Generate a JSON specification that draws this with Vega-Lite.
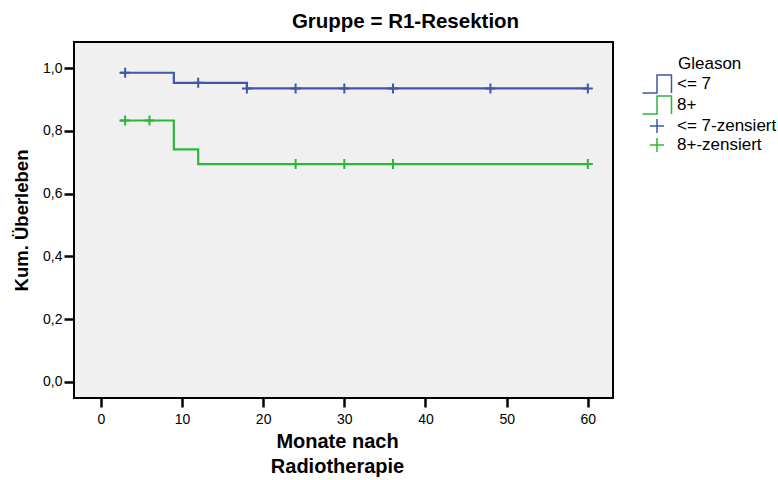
{
  "$schema": "https://vega.github.io/schema/vega-lite/v6.json",
  "width": 539,
  "height": 356,
  "autosize": {"type": "none"},
  "padding": {"left": 74, "top": 42, "right": 165, "bottom": 82},
  "background": "white",
  "title": {"text": "Gruppe = R1-Resektion", "font": "Liberation Sans", "fontSize": 20.5, "fontWeight": "bold", "color": "black", "offset": 10, "dx": 62},
  "config": {
    "font": "Liberation Sans",
    "view": {"fill": "#f0f0f0", "stroke": "black", "strokeWidth": 2},
    "legend": {
      "orient": "none", "legendX": 604, "legendY": 13.5, "padding": 0,
      "titleFontSize": 17, "titleFontWeight": "normal", "titleColor": "black", "titlePadding": 3, "titleFont": "Liberation Sans",
      "labelFontSize": 17, "labelColor": "black", "labelFont": "Liberation Sans", "labelOffset": 11.5,
      "symbolOffset": -29.5,
      "symbolSize": 196, "symbolStrokeWidth": 1.5, "rowPadding": -8, "symbolOpacity": 1
    }
  },
  "datasets": {
    "curves": [
      {"t": 2.3, "s": 0.985, "g": "<= 7"},
      {"t": 9, "s": 0.953, "g": "<= 7"},
      {"t": 18, "s": 0.935, "g": "<= 7"},
      {"t": 60, "s": 0.935, "g": "<= 7"},
      {"t": 2.3, "s": 0.833, "g": "8+"},
      {"t": 9, "s": 0.741, "g": "8+"},
      {"t": 12, "s": 0.694, "g": "8+"},
      {"t": 60, "s": 0.694, "g": "8+"}
    ],
    "censored": [
      {"t": 3, "s": 0.985, "g": "<= 7-zensiert"},
      {"t": 12, "s": 0.953, "g": "<= 7-zensiert"},
      {"t": 18, "s": 0.935, "g": "<= 7-zensiert"},
      {"t": 24, "s": 0.935, "g": "<= 7-zensiert"},
      {"t": 30, "s": 0.935, "g": "<= 7-zensiert"},
      {"t": 36, "s": 0.935, "g": "<= 7-zensiert"},
      {"t": 48, "s": 0.935, "g": "<= 7-zensiert"},
      {"t": 60, "s": 0.935, "g": "<= 7-zensiert"},
      {"t": 3, "s": 0.833, "g": "8+-zensiert"},
      {"t": 6, "s": 0.833, "g": "8+-zensiert"},
      {"t": 24, "s": 0.694, "g": "8+-zensiert"},
      {"t": 30, "s": 0.694, "g": "8+-zensiert"},
      {"t": 36, "s": 0.694, "g": "8+-zensiert"},
      {"t": 60, "s": 0.694, "g": "8+-zensiert"}
    ]
  },
  "encoding": {
    "x": {
      "field": "t", "type": "quantitative",
      "scale": {"domain": [-3.3, 63.1], "nice": false, "zero": false},
      "axis": {
        "values": [0, 10, 20, 30, 40, 50, 60],
        "title": ["Monate nach", "Radiotherapie"],
        "titleFontSize": 20, "titleFontWeight": "bold", "titleColor": "black", "titleLineHeight": 25, "titlePadding": 5, "titleX": 263,
        "domain": false, "grid": false, "ticks": true, "tickColor": "black", "tickWidth": 2.5, "tickSize": 9,
        "labelFontSize": 14, "labelColor": "black", "labelPadding": 5, "labelFont": "Liberation Sans", "titleFont": "Liberation Sans"
      }
    },
    "y": {
      "field": "s", "type": "quantitative",
      "scale": {"domain": [-0.051, 1.083], "nice": false, "zero": false},
      "axis": {
        "values": [0, 0.2, 0.4, 0.6, 0.8, 1.0],
        "labelExpr": "replace(format(datum.value, '.1f'), '.', ',')",
        "title": "Kum. Überleben",
        "titleFontSize": 18.5, "titleFontWeight": "bold", "titleColor": "black", "titlePadding": 11,
        "domain": false, "grid": false, "tickColor": "black", "tickWidth": 2.5, "tickSize": 10,
        "labelFontSize": 14, "labelColor": "black", "labelPadding": 2, "labelFont": "Liberation Sans", "titleFont": "Liberation Sans"
      }
    }
  },
  "layer": [
    {
      "data": {"name": "curves"},
      "mark": {"type": "line", "interpolate": "step-after", "strokeWidth": 2.2},
      "encoding": {
        "stroke": {"field": "g", "type": "nominal", "legend": null,
          "scale": {"domain": ["<= 7", "8+"], "range": ["#3e57a8", "#2eb53c"]}}
      }
    },
    {
      "data": {"name": "censored"},
      "mark": {"type": "point", "filled": false, "strokeWidth": 2, "size": 100, "opacity": 1},
      "encoding": {
        "color": {"field": "g", "type": "nominal",
          "scale": {"domain": ["<= 7", "8+", "<= 7-zensiert", "8+-zensiert"], "range": ["#3e57a8", "#2eb53c", "#3e57a8", "#2eb53c"]},
          "legend": {"title": "Gleason"}
        },
        "shape": {"field": "g", "type": "nominal",
          "scale": {"domain": ["<= 7", "8+", "<= 7-zensiert", "8+-zensiert"],
            "range": ["M-2.07,1.28H0V-1.28H2.07V1.28", "M-2.07,1.28H0V-1.28H2.07V1.28", "M-1,0H1M0,-1V1", "M-1,0H1M0,-1V1"]},
          "legend": {"title": "Gleason"}
        }
      }
    }
  ]
}
